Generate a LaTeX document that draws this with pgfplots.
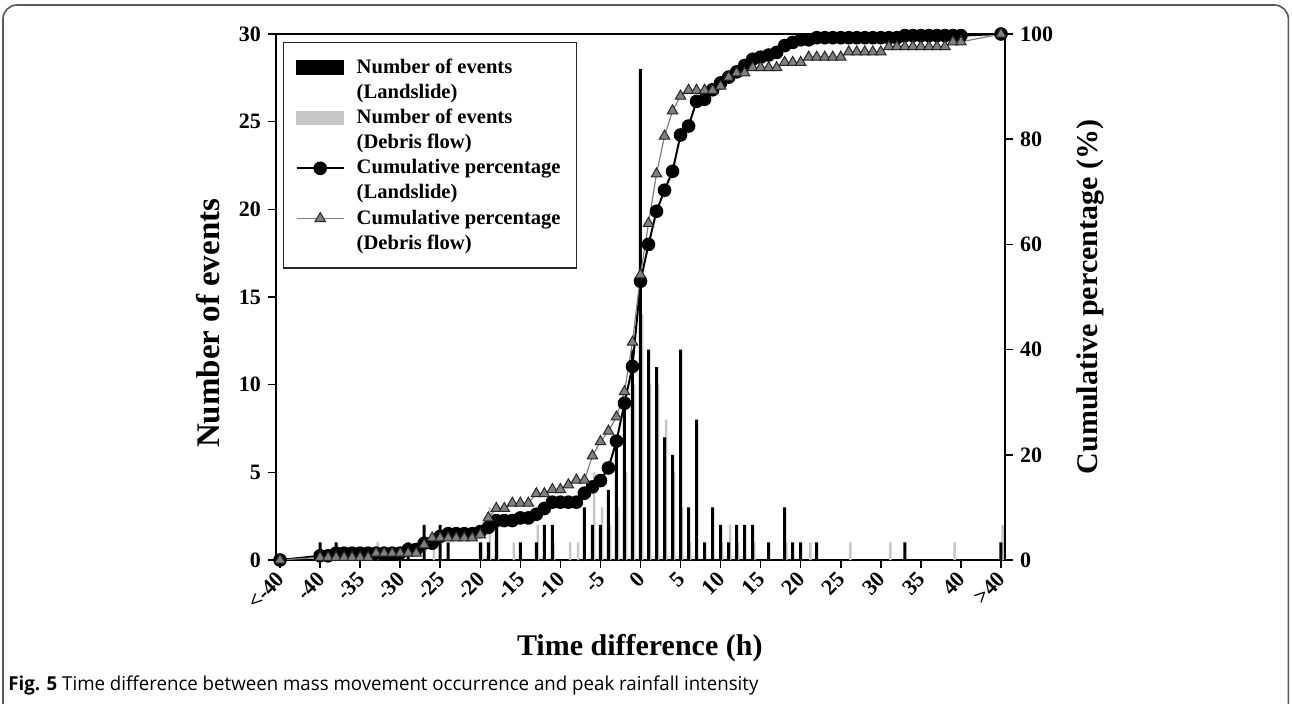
\documentclass[border=0pt]{standalone}
\usepackage{pgfplots}
\pgfplotsset{compat=1.18}
\usepackage{fontspec}
\setmainfont{Liberation Serif}
\newfontfamily\capfont{Open Sans}
\pgfplotsset{
  blackbarlegend/.style={legend image code/.code={\fill[black] (0pt,3pt) rectangle (23.5pt,9.5pt);}},
  graybarlegend/.style={legend image code/.code={\fill[black!22] (0pt,3pt) rectangle (23.5pt,9.5pt);}},
  mylinelegend/.style={legend image code/.code={\draw[mark repeat=2,mark phase=2,##1] plot coordinates {(0pt,6.25pt) (11.75pt,6.25pt) (23.5pt,6.25pt)};}},
  commonaxis/.style={
    at={(138pt,-280pt)}, anchor=south west,
    scale only axis, width=364.5pt, height=263pt,
    xmin=-45.5, xmax=45.5,
    tick align=outside, major tick length=4pt,
    axis line style={line width=0.75pt},
    every tick/.style={line width=0.75pt, black},
    tick label style={font=\bfseries\fontsize{11}{13}\selectfont},
    label style={font=\bfseries\fontsize{15}{18}\selectfont},
    /pgf/number format/assume math mode=true,
  }
}
\begin{document}
\begin{tikzpicture}
\useasboundingbox (0,0) rectangle (646pt,-351.5pt);
\fill[white] (0,0) rectangle (646pt,-351.5pt);
\draw[line width=0.8pt, black!65, rounded corners=7pt] (1.5pt,-370pt) -- (1.5pt,-2.5pt) -- (644.2pt,-2.5pt) -- (644.2pt,-370pt);
\node[anchor=west, inner sep=0pt] at (4pt,-342.5pt) {\resizebox{375pt}{\height}{\capfont\fontsize{9.6}{11}\selectfont\textbf{Fig. 5} Time difference between mass movement occurrence and peak rainfall intensity}};

\begin{axis}[commonaxis,
  ymin=0, ymax=30,
  xtick={-45,-40,...,45},
  xticklabels={<-40,-40,-35,-30,-25,-20,-15,-10,-5,0,5,10,15,20,25,30,35,40,>40},
  ytick={0,5,...,30},
  xtick pos=bottom, ytick pos=left,
  xticklabel style={rotate=45, anchor=east, yshift=-3pt, xshift=1pt},
  xlabel={Time difference (h)},
  xlabel style={at={(axis description cs:0.499,-0.167)}, anchor=center},
  ylabel={Number of events},
  ylabel style={at={(axis description cs:-0.0933,0.45)}, anchor=center, font=\bfseries\fontsize{16.5}{19}\selectfont},
]
% Debris flow bars (grey)
\addplot[ybar, bar width=1.25pt, bar shift=0.8pt, fill=black!22, draw=none] coordinates {
(-33,1) (-26,1) (-20,1) (-19,3) (-18,2) (-16,1) (-13,2) (-11,1) (-9,1) (-8,1)
(-6,5) (-5,3) (-4,2) (-3,3) (-2,5) (-1,10) (0,14) (1,10) (2,10) (3,8) (4,5) (5,3) (6,1)
(10,1) (11,2) (12,1) (14,1) (18,1) (21,1) (26,1) (31,1) (39,1) (45,2)
};
% Landslide bars (black)
\addplot[ybar, bar width=1.5pt, bar shift=0pt, fill=black, draw=none] coordinates {
(-40,1) (-38,1) (-29,1) (-27,2) (-25,2) (-24,1) (-20,1) (-19,1) (-18,2) (-15,1)
(-13,1) (-12,2) (-11,2) (-7,3) (-6,2) (-5,2) (-4,4) (-3,7) (-2,9) (-1,12) (0,28)
(1,12) (2,11) (3,7) (4,6) (5,12) (6,3) (7,8) (8,1) (9,3) (10,2) (11,1) (12,2) (13,2)
(14,2) (16,1) (18,3) (19,1) (20,1) (22,1) (33,1) (45,1)
};
\end{axis}

\begin{axis}[commonaxis,
  ymin=0, ymax=100,
  axis y line*=right, axis x line=none,
  ytick={0,20,...,100},
  ylabel={Cumulative percentage (\%)},
  ylabel style={at={(axis description cs:1.1166,0.5)}, anchor=center},
  legend style={at={(0.0096,0.985)}, anchor=north west, draw=black!85, line width=0.75pt,
    font=\bfseries\fontsize{10.3}{12.5}\selectfont, inner xsep=6pt, inner ysep=6pt,
    column sep=4pt, nodes={align=left}},
  legend cell align=left,
]
\addlegendimage{blackbarlegend}
\addlegendentry{Number of events\\(Landslide)}
\addlegendimage{graybarlegend}
\addlegendentry{Number of events\\(Debris flow)}
\addplot[black, line width=1pt, mark=*, mark size=2.9pt, mark options={fill=black}, mylinelegend] coordinates {
(-45,0) (-40,0.8) (-39,0.8) (-38,1.3) (-37,1.3) (-36,1.3) (-35,1.3) (-34,1.3) (-33,1.3)
(-32,1.3) (-31,1.3) (-30,1.3) (-29,2.0) (-28,2.0) (-27,3.2) (-26,3.2) (-25,4.5) (-24,5.0)
(-23,5.0) (-22,5.0) (-21,5.0) (-20,5.4) (-19,6.2) (-18,7.5) (-17,7.5) (-16,7.5) (-15,8.0)
(-14,8.0) (-13,8.7) (-12,9.8) (-11,11.0) (-10,11.0) (-9,11.0) (-8,11.0) (-7,12.7) (-6,13.9)
(-5,15.1) (-4,17.5) (-3,22.6) (-2,29.8) (-1,36.8) (0,53.0) (1,60.0) (2,66.3) (3,70.3)
(4,73.9) (5,80.8) (6,82.5) (7,87.2) (8,87.6) (9,89.4) (10,90.7) (11,91.8) (12,92.8)
(13,94.0) (14,95.2) (15,95.6) (16,96.0) (17,96.5) (18,97.8) (19,98.4) (20,98.9) (21,98.9)
(22,99.3) (23,99.3) (24,99.3) (25,99.3) (26,99.3) (27,99.3) (28,99.3) (29,99.3) (30,99.3)
(31,99.3) (32,99.3) (33,99.7) (34,99.7) (35,99.7) (36,99.7) (37,99.7) (38,99.7) (39,99.7)
(40,99.7) (45,100)
};
\addlegendentry{Cumulative percentage\\(Landslide)}
\addplot[black!50, line width=0.6pt, mark=triangle*, mark size=3pt, mark options={fill=black!50, draw=black!85, line width=0.5pt}, mylinelegend] coordinates {
(-45,0) (-40,0.5) (-39,0.5) (-38,0.5) (-37,0.5) (-36,0.5) (-35,0.5) (-34,0.5) (-33,1.3)
(-32,1.3) (-31,1.3) (-30,1.3) (-29,1.3) (-28,1.3) (-27,2.9) (-26,4.2) (-25,4.2) (-24,4.2)
(-23,4.2) (-22,4.2) (-21,4.2) (-20,4.8) (-19,8.0) (-18,9.8) (-17,9.8) (-16,10.8) (-15,10.8)
(-14,10.8) (-13,12.6) (-12,12.6) (-11,13.4) (-10,13.4) (-9,14.3) (-8,15.2) (-7,15.2)
(-6,19.8) (-5,22.5) (-4,24.5) (-3,27.2) (-2,32.0) (-1,41.4) (0,54.2) (1,64.0) (2,73.4)
(3,80.6) (4,85.4) (5,88.2) (6,89.3) (7,89.3) (8,89.3) (9,89.3) (10,90.1) (11,91.8) (12,92.6)
(13,92.6) (14,93.6) (15,93.6) (16,93.6) (17,93.6) (18,94.6) (19,94.6) (20,94.6) (21,95.6)
(22,95.6) (23,95.6) (24,95.6) (25,95.6) (26,96.6) (27,96.6) (28,96.6) (29,96.6) (30,96.6)
(31,97.6) (32,97.6) (33,97.6) (34,97.6) (35,97.6) (36,97.6) (37,97.6) (38,97.6) (39,98.5)
(40,98.5) (45,100)
};
\addlegendentry{Cumulative percentage\\(Debris flow)}
\end{axis}
\end{tikzpicture}
\end{document}
